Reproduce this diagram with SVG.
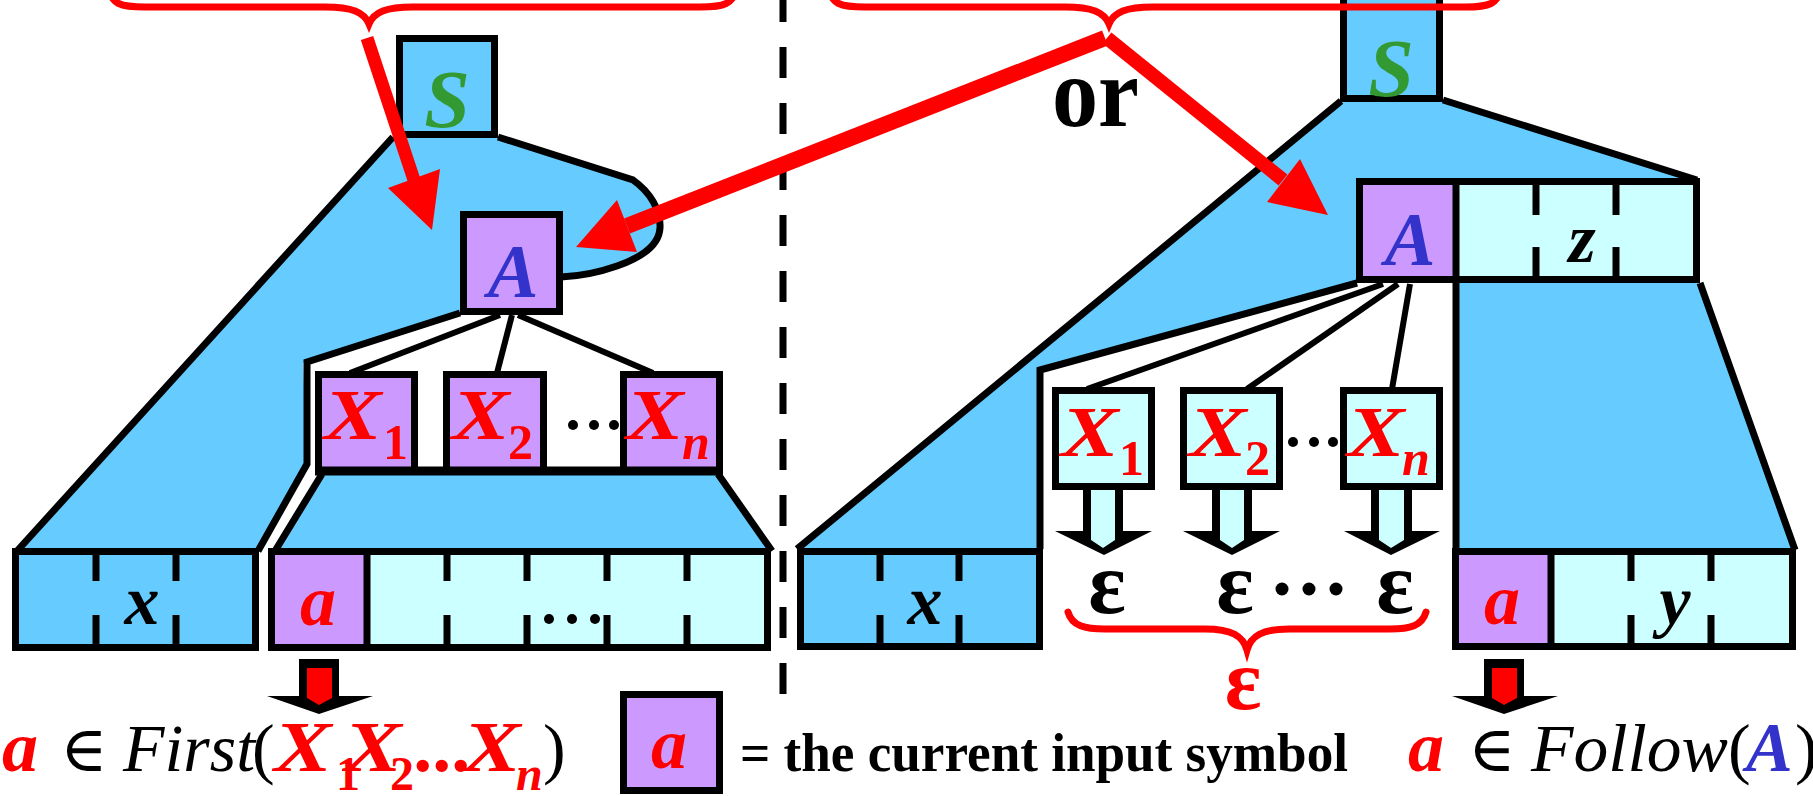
<svg xmlns="http://www.w3.org/2000/svg" width="1813" height="796" viewBox="0 0 1813 796">
<defs>
<style>
.blue{fill:#66ccff}
.pur{fill:#cc99ff;stroke:#000;stroke-width:7}
.cyan{fill:#ccffff;stroke:#000;stroke-width:7}
.bbox{fill:#66ccff;stroke:#000;stroke-width:7}
.ol{fill:none;stroke:#000;stroke-width:7;stroke-linejoin:miter}
.fan{fill:none;stroke:#000;stroke-width:6}
.tick{stroke:#000;stroke-width:7}
.brace{fill:none;stroke:#ff0000;stroke-width:7;stroke-linecap:round}
.rshaft{stroke:#ff0000;stroke-linecap:butt}
.rhead{fill:#ff0000}
.serif{font-family:"Liberation Serif","Times New Roman",serif}
.bi{font-family:"Liberation Serif","Times New Roman",serif;font-weight:bold;font-style:italic}
.it{font-family:"Liberation Serif","Times New Roman",serif;font-style:italic}
.sym{font-family:"Liberation Serif","DejaVu Serif",serif}
.dig{font-family:"Liberation Serif","Times New Roman",serif;font-weight:bold}
.bx{font-family:"Liberation Serif","Times New Roman",serif;font-weight:bold;font-style:italic;font-size:72px;fill:#ff0000}
.red{fill:#ff0000}
.grn{fill:#339933}
.bl{fill:#3333cc}
.blk{fill:#000}
</style>
</defs>

<!-- divider -->
<line x1="783" y1="-9" x2="783" y2="694" stroke="#000" stroke-width="7" stroke-dasharray="31 25"/>

<!-- LEFT TREE -->
<g id="left-tree">
<path class="blue" d="M393,137 L498,137 L633,180 C650,192 661,210 660,228 C659,246 640,258 617,266 C600,272 585,276 563,277 L563,315 L460,315 L303,363 L307,464 L257,551 L17,551 Z"/>
<path class="ol" d="M17,551 L393,137 M498,137 L633,180 C650,192 661,210 660,228 C659,246 640,258 617,266 C600,272 585,276 561,277 M460,313 L307,362 L307,464 L258,551"/>
<path class="blue" d="M322,474 L718,474 L772,551 L273,551 Z"/>
<path class="ol" d="M322,474 L275,551 M718,474 L772,551"/>
</g>

<g id="left-S"><rect class="bbox" x="399.5" y="38.5" width="95" height="96"/><text class="bi grn" x="447" y="127" font-size="82" text-anchor="middle">S</text></g>
<g id="left-A"><rect class="pur" x="463.5" y="214.5" width="96" height="97"/><text class="bi bl" x="513" y="297" font-size="76" text-anchor="middle">A</text></g>

<g id="left-fan">
<line class="fan" x1="500" y1="315" x2="350" y2="373"/>
<line class="fan" x1="512" y1="315" x2="497" y2="373"/>
<line class="fan" x1="518" y1="315" x2="653" y2="373"/>
</g>

<g id="left-X1"><rect class="pur" x="318.5" y="374.5" width="96" height="96"/><text class="bx" transform="translate(324,439) scale(1.2,1)">X</text><text class="dig red" x="383" y="459" font-size="50">1</text></g>
<g id="left-X2"><rect class="pur" x="446.5" y="374.5" width="97" height="96"/><text class="bx" transform="translate(452,439) scale(1.2,1)">X</text><text class="dig red" x="508" y="459" font-size="50">2</text></g>
<g id="left-Xn"><rect class="pur" x="623.5" y="374.5" width="96" height="96"/><text class="bx" transform="translate(626,439) scale(1.2,1)">X</text><text class="bi red" x="682" y="459" font-size="50">n</text></g>
<line x1="315" y1="471" x2="723" y2="471" stroke="#000" stroke-width="9"/>
<g id="left-dots1"><circle cx="573" cy="425" r="5"/><circle cx="594" cy="425" r="5"/><circle cx="614" cy="425" r="5"/></g>

<g id="left-xbuf">
<rect class="bbox" x="15.5" y="551.5" width="240" height="96"/>
<path class="tick" d="M96,551 V581 M96,615 V648 M176,551 V581 M176,615 V648"/>
<text class="bi blk" x="142" y="624" font-size="70" text-anchor="middle">x</text>
</g>
<g id="left-abuf">
<rect class="cyan" x="271.5" y="551.5" width="496" height="96"/>
<rect class="pur" x="271.5" y="551.5" width="95.5" height="96"/>
<path class="tick" d="M447,551 V581 M447,615 V648 M527,551 V581 M527,615 V648 M607,551 V581 M607,615 V648 M687,551 V581 M687,615 V648"/>
<text class="bi red" x="318" y="625" font-size="72" text-anchor="middle">a</text>
<circle cx="549" cy="619" r="5"/><circle cx="572" cy="619" r="5"/><circle cx="595" cy="619" r="5"/>
</g>

<g id="left-down-arrow">
<polygon points="299,659 339,659 339,696 373,696 319,714 267,696 299,696" fill="#000"/>
<polygon points="307,668 332,668 332,698 319,705 307,698" fill="#ff0000"/>
</g>

<!-- RIGHT TREE -->
<g id="right-tree">
<path class="blue" d="M1340,102 L1443,102 L1697,180 L1700,283 L1794,549 L1456,549 L1456,283 L1356,283 L1040,370 L1040,549 L797,549 Z"/>
<path class="ol" d="M797,549 L1341,101 M1443,100 L1697,180 M1700,283 L1795,550 M1456,283 L1456,549 M1357,283 L1040,370 L1040,549"/>
</g>
<g id="right-S"><rect class="bbox" x="1343.5" y="-10" width="96" height="108.5"/><text class="bi grn" x="1391" y="96" font-size="82" text-anchor="middle">S</text></g>
<g id="right-Az">
<rect class="cyan" x="1359.5" y="181.5" width="337" height="98"/>
<rect class="pur" x="1359.5" y="181.5" width="96.5" height="98"/>
<path class="tick" d="M1536,181 V215 M1536,247 V280 M1616,181 V215 M1616,247 V280"/>
<text class="bi bl" x="1410" y="265" font-size="76" text-anchor="middle">A</text>
<text class="bi blk" x="1582" y="262" font-size="70" text-anchor="middle">z</text>
</g>

<g id="right-fan">
<line class="fan" x1="1383" y1="284" x2="1087" y2="389"/>
<line class="fan" x1="1398" y1="284" x2="1247" y2="389"/>
<line class="fan" x1="1410" y1="284" x2="1392" y2="389"/>
</g>

<g id="right-X1"><rect class="cyan" x="1055.5" y="390.5" width="96" height="96"/><text class="bx" transform="translate(1061,456) scale(1.2,1)">X</text><text class="dig red" x="1119" y="475" font-size="50">1</text></g>
<g id="right-X2"><rect class="cyan" x="1183.5" y="390.5" width="96" height="96"/><text class="bx" transform="translate(1189,456) scale(1.2,1)">X</text><text class="dig red" x="1245" y="475" font-size="50">2</text></g>
<g id="right-Xn"><rect class="cyan" x="1343.5" y="390.5" width="96" height="96"/><text class="bx" transform="translate(1347,456) scale(1.2,1)">X</text><text class="bi red" x="1402" y="475" font-size="50">n</text></g>
<g id="right-dots1"><circle cx="1293" cy="442" r="5"/><circle cx="1314" cy="442" r="5"/><circle cx="1333" cy="442" r="5"/></g>

<g id="eps-arrows">
<polygon points="1083,490 1123,490 1123,531 1152,531 1104,555 1055,531 1083,531" fill="#000"/>
<polygon points="1091,490 1115,490 1115,540 1103,548 1091,540" fill="#ccffff"/>
<polygon points="1212,490 1252,490 1252,531 1280,531 1232,555 1183,531 1212,531" fill="#000"/>
<polygon points="1220,490 1244,490 1244,540 1232,548 1220,540" fill="#ccffff"/>
<polygon points="1371,490 1412,490 1412,531 1440,531 1391,555 1344,531 1371,531" fill="#000"/>
<polygon points="1379,490 1404,490 1404,540 1391,548 1379,540" fill="#ccffff"/>
</g>

<g id="eps-row">
<text class="serif blk" font-size="88" font-weight="bold" text-anchor="middle"><tspan x="1107" y="613">ε</tspan><tspan x="1235" y="613">ε</tspan><tspan x="1395" y="613">ε</tspan></text>
<circle cx="1282" cy="589" r="6.5"/><circle cx="1309" cy="589" r="6.5"/><circle cx="1336" cy="589" r="6.5"/>
<path class="brace" d="M1068,612 C1072,626 1085,629 1105,629 L1205,629 C1232,629 1243,636 1247,650 C1251,636 1262,629 1289,629 L1390,629 C1410,629 1422,626 1426,612"/>
<text class="serif red" x="1243" y="709" font-size="86" font-weight="bold" text-anchor="middle">ε</text>
</g>

<g id="right-xbuf">
<rect class="bbox" x="800.5" y="551.5" width="239" height="95"/>
<path class="tick" d="M880,551 V581 M880,615 V647 M959,551 V581 M959,615 V647"/>
<text class="bi blk" x="925" y="624" font-size="70" text-anchor="middle">x</text>
</g>
<g id="right-aybuf">
<rect class="cyan" x="1455.5" y="551.5" width="337" height="95"/>
<rect class="pur" x="1455.5" y="551.5" width="95.5" height="95"/>
<path class="tick" d="M1631,551 V581 M1631,615 V647 M1711,551 V581 M1711,615 V647"/>
<text class="bi red" x="1502" y="624" font-size="72" text-anchor="middle">a</text>
<text class="bi blk" x="1675" y="624" font-size="70" text-anchor="middle">y</text>
</g>
<g id="right-down-arrow">
<polygon points="1484,659 1524,659 1524,696 1558,696 1504,714 1452,696 1484,696" fill="#000"/>
<polygon points="1492,668 1517,668 1517,698 1504,705 1492,698" fill="#ff0000"/>
</g>

<!-- braces and red arrows -->
<g id="connectors">
<path class="brace" d="M108,-12 C112,4 120,7 145,7 L325,7 C352,7 364,12 369,24 C374,12 386,7 413,7 L700,7 C725,7 732,4 738,-12"/>
<path class="brace" d="M828,-12 C832,4 840,7 865,7 L1065,7 C1092,7 1104,12 1109,24 C1114,12 1126,7 1153,7 L1465,7 C1490,7 1497,4 1502,-12"/>
<line class="rshaft" x1="367" y1="38" x2="414" y2="180" stroke-width="13"/>
<polygon class="rhead" points="388,188 440,169 432,230"/>
<line class="rshaft" x1="1105" y1="38" x2="627" y2="226" stroke-width="16"/>
<polygon class="rhead" points="617,200 637,252 576,247"/>
<line class="rshaft" x1="1107" y1="38" x2="1283" y2="180" stroke-width="14"/>
<polygon class="rhead" points="1267,202 1300,159 1328,215"/>
</g>

<text id="or" class="serif blk" x="1052" y="126" font-size="100" font-weight="bold" textLength="87" lengthAdjust="spacingAndGlyphs">or</text>

<!-- bottom formulas -->
<g id="first-formula">
<text class="bi red" x="2" y="771" font-size="72">a</text>
<text class="sym blk" x="60" y="771" font-size="64">∈</text>
<text class="it blk" x="123" y="771" font-size="68" textLength="132" lengthAdjust="spacingAndGlyphs">First</text>
<text class="serif blk" x="252" y="771" font-size="68">(</text>
<text class="bx" transform="translate(274,771) scale(1.2,1)">X</text>
<text class="dig red" x="336" y="790" font-size="48">1</text>
<text class="bx" transform="translate(344,771) scale(1.2,1)">X</text>
<text class="dig red" x="390" y="790" font-size="48">2</text>
<text class="bi red" x="416" y="771" font-size="76">...</text>
<text class="bx" transform="translate(463,771) scale(1.2,1)">X</text>
<text class="bi red" x="516" y="790" font-size="48">n</text>
<text class="serif blk" x="543" y="771" font-size="68">)</text>
</g>

<g id="legend">
<rect class="pur" x="623.5" y="694.5" width="96" height="96"/>
<text class="bi red" x="669" y="768" font-size="72" text-anchor="middle">a</text>
<text class="serif blk" x="740" y="771" font-size="54" font-weight="bold" textLength="608" lengthAdjust="spacingAndGlyphs">= the current input symbol</text>
</g>

<g id="follow-formula">
<text class="bi red" x="1408" y="771" font-size="72">a</text>
<text class="sym blk" x="1468" y="771" font-size="64">∈</text>
<text class="it blk" x="1531" y="771" font-size="68" textLength="197" lengthAdjust="spacingAndGlyphs">Follow</text>
<text class="serif blk" x="1728" y="771" font-size="68">(</text>
<text class="bi bl" x="1746" y="771" font-size="70">A</text>
<text class="serif blk" x="1795" y="771" font-size="68">)</text>
</g>
</svg>
